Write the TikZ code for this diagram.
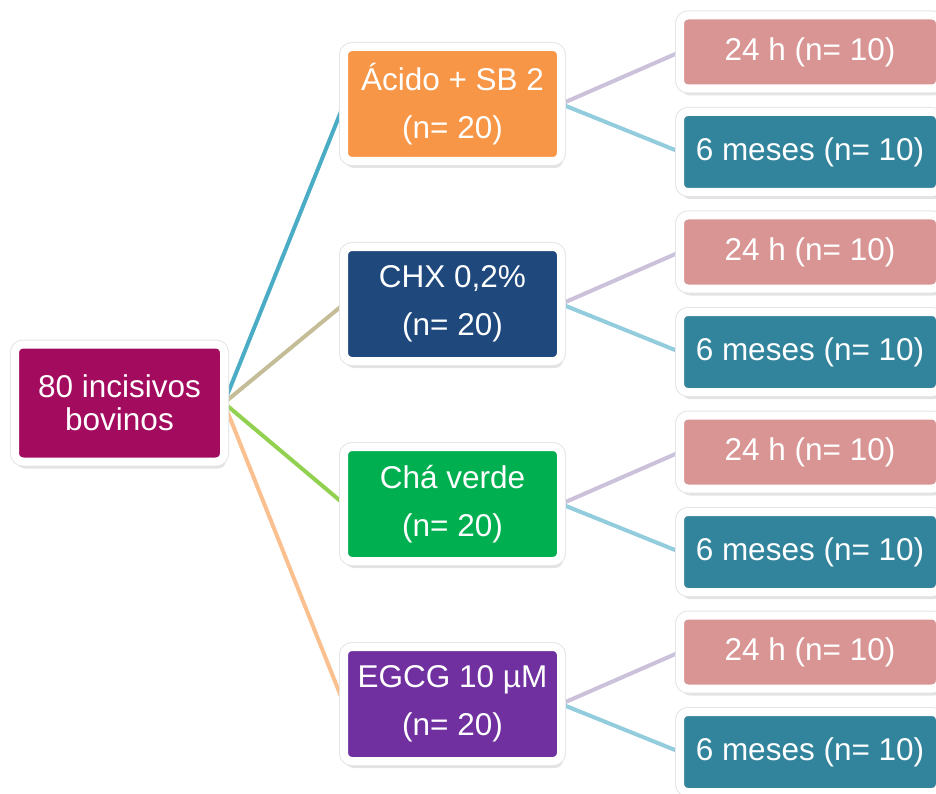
\documentclass[tikz,border=0pt]{standalone}
\usepackage{fontspec}
\setmainfont{Liberation Sans}
\usepackage{tikz}
\usetikzlibrary{shadows,backgrounds}
\definecolor{RootBerry}{HTML}{A30B5F}
\definecolor{AcidOrange}{HTML}{F79646}
\definecolor{ChxNavy}{HTML}{1F497D}
\definecolor{TeaGreen}{HTML}{00B050}
\definecolor{EgcgPurple}{HTML}{7030A0}
\definecolor{ShortPink}{HTML}{D99594}
\definecolor{LongTeal}{HTML}{31849B}
\definecolor{LineBlue}{HTML}{4BACC6}
\definecolor{LineTan}{HTML}{C4BD97}
\definecolor{LineGreen}{HTML}{92D050}
\definecolor{LineOrange}{HTML}{FAC090}
\definecolor{LineLilac}{HTML}{CCC1DA}
\definecolor{LineSky}{HTML}{93CDDD}

\begin{document}
\begin{tikzpicture}[x=1pt, y=-1pt,
    box/.style={draw=white, line width=8pt, rounded corners=8pt, outer sep=0pt,
        text=white, align=center, inner sep=0pt,
        font=\fontsize{31.5}{48}\selectfont,
        drop shadow={opacity=0.22, shadow xshift=2pt, shadow yshift=-7pt},
        preaction={draw=black!10, line width=10pt}},
    rootbox/.style={box, fill=RootBerry, minimum width=209pt, minimum height=117pt,
        font=\fontsize{31.5}{33}\selectfont},
    groupbox/.style={box, minimum width=217pt, minimum height=114pt},
    shortbox/.style={box, fill=ShortPink, minimum width=260pt, minimum height=73pt},
    longbox/.style={box, fill=LongTeal, minimum width=260pt, minimum height=80pt},
    link/.style={line width=4pt}
]
\useasboundingbox (0,0) rectangle (936,794);
\node[rootbox] (root) at (119.5,403) {80 incisivos\\bovinos};

\node[groupbox, fill=AcidOrange] (acid) at (452.5,104) {Ácido + SB 2\\(n= 20)};
\node[groupbox, fill=ChxNavy] (chx) at (452.5,304) {CHX 0,2\%\\(n= 20)};
\node[groupbox, fill=TeaGreen] (tea) at (452.5,504) {Chá verde\\(n= 20)};
\node[groupbox, fill=EgcgPurple] (egcg) at (452.5,704) {EGCG 10 µM\\(n= 20)};

\node[shortbox] (acid24) at (810,52) {24 h (n= 10)};
\node[longbox] (acid6) at (810,152) {6 meses (n= 10)};
\node[shortbox] (chx24) at (810,252) {24 h (n= 10)};
\node[longbox] (chx6) at (810,352) {6 meses (n= 10)};
\node[shortbox] (tea24) at (810,452) {24 h (n= 10)};
\node[longbox] (tea6) at (810,552) {6 meses (n= 10)};
\node[shortbox] (egcg24) at (810,652) {24 h (n= 10)};
\node[longbox] (egcg6) at (810,752) {6 meses (n= 10)};

% connectors behind the boxes
\begin{scope}[on background layer]
\draw[link, draw=LineBlue] (root.east) -- (acid.west);
\draw[link, draw=LineTan] (root.east) -- (chx.west);
\draw[link, draw=LineGreen] (root.east) -- (tea.west);
\draw[link, draw=LineOrange] (root.east) -- (egcg.west);
\draw[link, draw=LineLilac] (acid.east) -- (acid24.west);
\draw[link, draw=LineSky] (acid.east) -- (acid6.west);
\draw[link, draw=LineLilac] (chx.east) -- (chx24.west);
\draw[link, draw=LineSky] (chx.east) -- (chx6.west);
\draw[link, draw=LineLilac] (tea.east) -- (tea24.west);
\draw[link, draw=LineSky] (tea.east) -- (tea6.west);
\draw[link, draw=LineLilac] (egcg.east) -- (egcg24.west);
\draw[link, draw=LineSky] (egcg.east) -- (egcg6.west);
\end{scope}
\end{tikzpicture}
\end{document}
